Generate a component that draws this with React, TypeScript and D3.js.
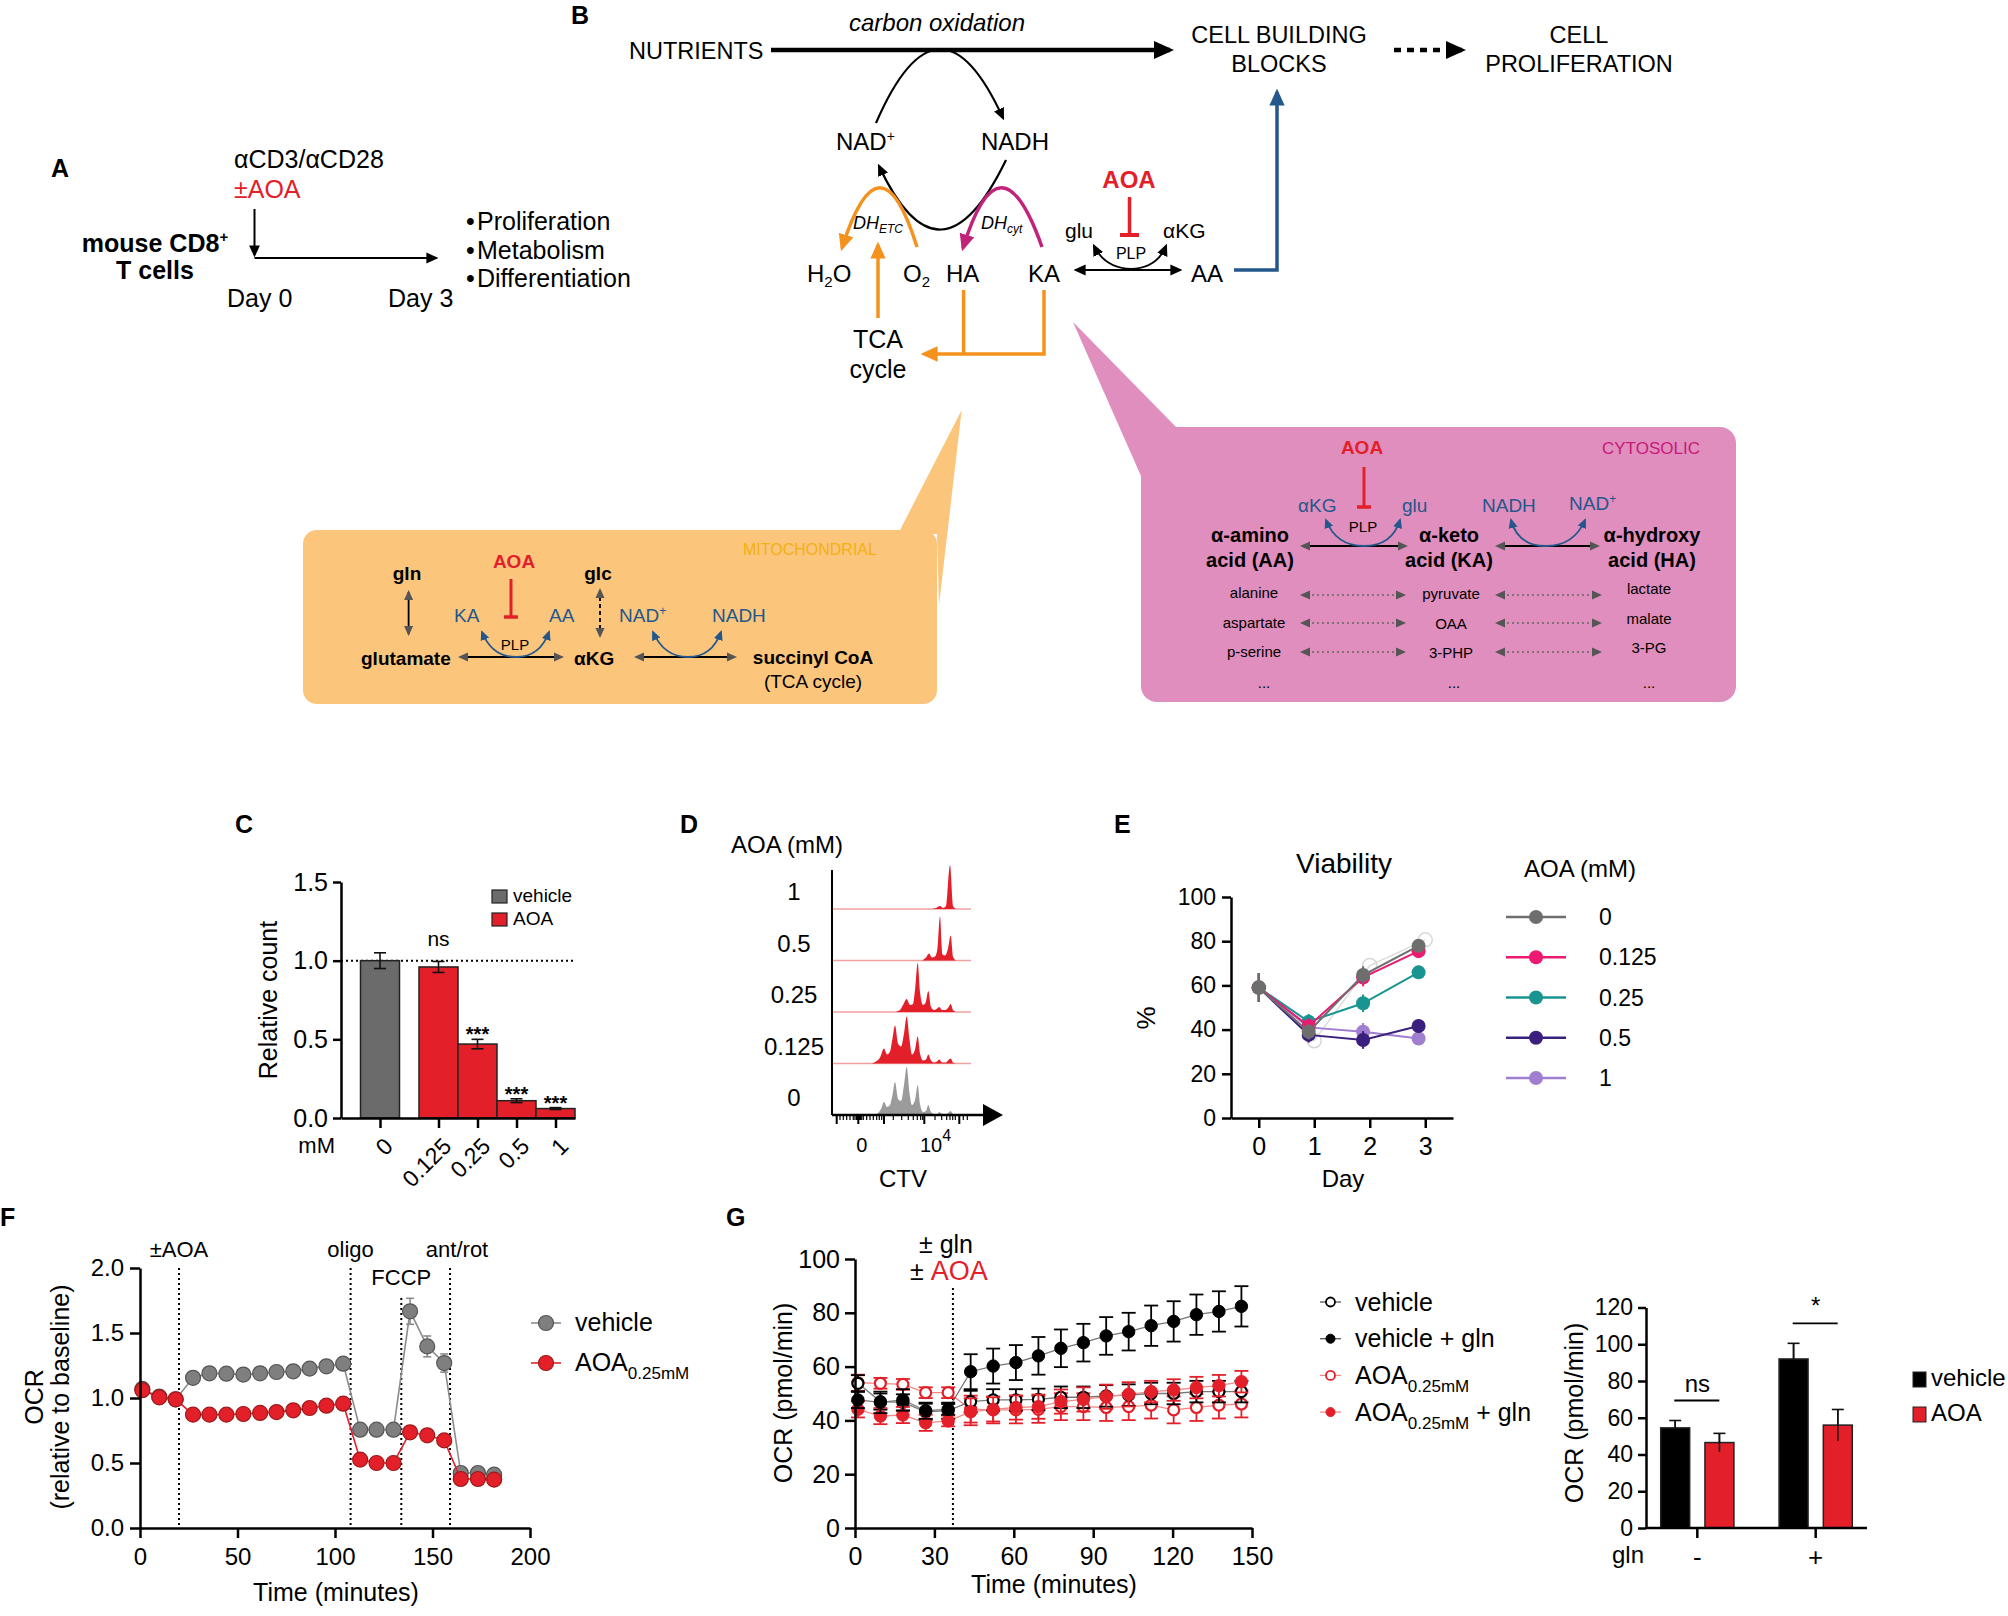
import * as d3 from 'd3'
import { useEffect, useRef } from 'react'

const FONT = '"Liberation Sans", Arial, Helvetica, sans-serif'
const RED = '#e3202a'
const DARKRED = '#9e1a1a'
const BLUE = '#24578c'
const ORANGE = '#f5921e'
const MAGENTA = '#c2237a'

// ---------- C: relative count ----------
const cDoses = ['0', '0.125', '0.25', '0.5', '1']
const cSlots = [0, 1.5, 2.5, 3.5, 4.5]
const cCount = [1.0, 0.96, 0.47, 0.11, 0.06]
const cCountErr = [0.05, 0.035, 0.03, 0.012, 0.006]
const cSig = ['', 'ns', '***', '***', '***']
const cYTicks = [0, 0.5, 1, 1.5]

// ---------- D: CTV histograms (channel, height) ----------
const dRows = ['1', '0.5', '0.25', '0.125', '0']
const dHist1: [number, number][] = [[100, 0], [104, 1], [108, 3], [111, 1], [114, 3], [118, 44], [121, 3], [124, 0]]
const dHist05: [number, number][] = [[90, 0], [94, 3], [97, 7], [100, 3], [103, 4], [105.5, 12], [108, 44], [110.5, 6], [113, 5], [116, 12], [118.7, 25], [121, 4], [124, 0]]
const dHist025: [number, number][] = [[63, 0], [68, 2], [71, 7], [74.7, 13], [78, 7], [81, 8], [83, 22], [85.7, 49], [88, 20], [91, 7], [93.5, 9], [96.3, 21], [99, 5], [102, 2], [104.5, 3], [107.3, 5], [110, 2], [113, 2], [116, 4], [118.7, 8], [121, 2], [124, 0]]
const dHist0125: [number, number][] = [[39, 0], [44, 2], [48, 6], [52, 15], [55, 9], [58, 12], [60.5, 25], [63, 38], [66, 20], [69, 17], [72, 30], [74.7, 47], [77.5, 24], [80, 9], [83, 14], [85.7, 27], [88, 10], [91, 3], [94, 4], [96.3, 9], [99, 3], [102, 1], [105, 2], [107.3, 4], [110, 1], [114, 1], [116, 3], [118.7, 5], [121, 1], [124, 0]]
const dHist0: [number, number][] = [[42, 0], [46, 2], [49, 6], [52, 13], [55, 8], [58, 10], [60.5, 20], [63, 33], [66, 16], [69, 14], [72, 30], [74.7, 48], [77.5, 22], [80, 10], [83, 15], [85.7, 30], [88, 11], [91, 3], [94, 4], [96.3, 10], [99, 3], [102, 1], [105, 1], [107.3, 3], [110, 1], [114, 1], [116, 2], [118.7, 4], [121, 1], [124, 0]]
const dHists = [dHist1, dHist05, dHist025, dHist0125, dHist0]
const dMajorTicks = [4.7, 26.3, 52, 92.3, 127.3]
const dMinorTicks = [8, 11.3, 14.7, 18, 21.3, 23, 24.7, 28, 29.7, 31.3, 34.7, 38, 41.3, 44.7, 47.3, 49.7, 61.3, 69.7, 76.3, 81.3, 85.3, 88.7, 90.7, 103, 109.7, 114.7, 118, 120.7, 123.3, 131.3, 135.3]

// ---------- E: viability ----------
const eDays = [0, 0.9, 1.88, 2.88]
const eDayTicks = [0, 1, 2, 3]
const eDoses = ['0', '0.125', '0.25', '0.5', '1']
const eColors = ['#6e6e6e', '#ec1a72', '#199490', '#3b1f7e', '#a07ed0']
const eDose0 = [59, 39, 64.7, 77.9]
const eDose0125 = [59, 41.6, 63.6, 75.5]
const eDose025 = [59, 43.6, 51.9, 65.9]
const eDose05 = [59, 37.6, 35.3, 41.6]
const eDose1 = [59, 41, 39, 36]
const eErr = [6.5, 3.5, 4, 3]
const eSingle = [59, 35, 69, 80.6]
const eYTicks = [0, 20, 40, 60, 80, 100]

// ---------- F: Seahorse, relative OCR ----------
const fTime = [1.2, 9.9, 18.3, 27.2, 35.6, 44.3, 53, 61.6, 70, 78.6, 87, 95.6, 104.2, 112.9, 121.3, 130, 138.5, 147.3, 156, 164.5, 173.3, 181.6]
const fVehicle = [1.07, 1.01, 0.99, 1.155, 1.19, 1.187, 1.18, 1.19, 1.2, 1.205, 1.226, 1.244, 1.264, 0.756, 0.756, 0.756, 1.667, 1.397, 1.269, 0.423, 0.423, 0.41]
const fVehicleErr = [0.02, 0.02, 0.02, 0.02, 0.02, 0.02, 0.02, 0.02, 0.02, 0.02, 0.02, 0.03, 0.03, 0.02, 0.02, 0.02, 0.1, 0.08, 0.07, 0.02, 0.02, 0.02]
const fAoa = [1.06, 1.005, 0.99, 0.872, 0.872, 0.872, 0.877, 0.885, 0.892, 0.905, 0.923, 0.941, 0.956, 0.526, 0.5, 0.5, 0.736, 0.713, 0.674, 0.377, 0.377, 0.372]
const fEvents = [20, 108, 134, 159]
const fEventLabels = ['±AOA', 'oligo', 'FCCP', 'ant/rot']
const fYTicks = [0, 0.5, 1, 1.5, 2]
const fXTicks = [0, 50, 100, 150, 200]

// ---------- G: OCR with glutamine ----------
const gTime = [1.1, 9.6, 18.1, 26.7, 35.2, 43.7, 52.2, 60.8, 69.3, 77.8, 86.3, 94.9, 103.4, 111.9, 120.4, 129, 137.5, 146]
const gVehicle = [53.8, 47, 46.7, 43.2, 43.6, 47, 47.6, 47.6, 47.8, 48.6, 48.6, 49.1, 49.4, 50, 50, 50.7, 50.7, 50.7]
const gVehicleErr = [3, 3, 3, 3, 3, 4, 4, 4, 4, 4, 4, 4, 4, 4, 4, 4, 4, 4]
const gVehicleGln = [47.6, 46.7, 47.6, 43.6, 44.1, 58.1, 60.2, 61.5, 64, 66.8, 68.9, 71.4, 73, 75.2, 76.8, 79.3, 80.5, 82.4]
const gVehicleGlnErr = [3, 4, 4, 3, 2, 6.5, 6.5, 6.5, 7, 7, 7, 7, 7, 7.5, 7.5, 7.5, 7.5, 7.5]
const gAoa = [54, 53.8, 53.4, 50.3, 50.3, 44.2, 43.9, 43.9, 44.1, 45.1, 45.1, 44.8, 45.1, 45.7, 43.9, 44.8, 45.7, 46.1]
const gAoaErr = [3, 2, 2, 2, 2, 5, 5, 5, 5, 5, 5, 5, 5, 5, 5, 5, 5, 5]
const gAoaGln = [44.1, 41.6, 42, 39.1, 39.8, 43.2, 44.1, 44.8, 45.1, 47, 47.8, 48.8, 49.7, 50.7, 51.3, 52.2, 52.9, 54.4]
const gAoaGlnErr = [3, 3, 3, 3, 2, 5, 4.5, 4.5, 4.5, 4.5, 4.5, 4.5, 4.5, 4, 4, 4, 4, 4]
const gInjection = 37
const gYTicks = [0, 20, 40, 60, 80, 100]
const gXTicks = [0, 30, 60, 90, 120, 150]

// ---------- G (bars) ----------
const gBarGroups = ['-', '+']
const gBarTreat = ['vehicle', 'AOA']
const gBarVehicle = [54.5, 92]
const gBarVehicleErr = [4, 8.5]
const gBarAoa = [46.5, 56]
const gBarAoaErr = [5, 8.5]
const gBarSig = ['ns', '*']
const gBarYTicks = [0, 20, 40, 60, 80, 100, 120]

type G = d3.Selection<SVGGElement, unknown, null, undefined>

function styleAxis(g: G, fs = 24) {
  g.attr('font-family', FONT).attr('font-size', fs)
  g.selectAll('.domain').attr('stroke', '#000').attr('stroke-width', 2.5)
  g.selectAll('.tick line').attr('stroke', '#000').attr('stroke-width', 2.5)
  g.selectAll('.tick text').attr('fill', '#000')
}

function label(g: G, x: number, y: number, s: string, size = 24, anchor = 'start', fill = '#000', weight = 'normal') {
  return g
    .append('text')
    .attr('x', x)
    .attr('y', y)
    .attr('font-size', size)
    .attr('text-anchor', anchor)
    .attr('fill', fill)
    .attr('font-weight', weight)
    .text(s)
}

function vlabel(g: G, x: number, y: number, s: string, size = 24) {
  return g
    .append('text')
    .attr('transform', `translate(${x},${y}) rotate(-90)`)
    .attr('text-anchor', 'middle')
    .attr('font-size', size)
    .text(s)
}

function errBar(g: G, x: number, y1: number, y2: number, cap: number, color: string, w = 1.8) {
  g.append('line').attr('x1', x).attr('x2', x).attr('y1', y1).attr('y2', y2).attr('stroke', color).attr('stroke-width', w)
  if (cap > 0) {
    g.append('line').attr('x1', x - cap).attr('x2', x + cap).attr('y1', y1).attr('y2', y1).attr('stroke', color).attr('stroke-width', w)
    g.append('line').attr('x1', x - cap).attr('x2', x + cap).attr('y1', y2).attr('y2', y2).attr('stroke', color).attr('stroke-width', w)
  }
}

function drawC(g: G) {
  const x = d3.scaleLinear().domain([-1, 5]).range([341, 575])
  const y = d3.scaleLinear().domain([0, 1.5]).range([1118, 882])
  const half = (x(1) - x(0)) / 2

  g.append('line')
    .attr('x1', x(-1)).attr('x2', x(5)).attr('y1', y(1)).attr('y2', y(1))
    .attr('stroke', '#000').attr('stroke-width', 2).attr('stroke-dasharray', '2 3')

  cSlots.forEach((s, i) => {
    const v = cCount[i]
    g.append('rect')
      .attr('x', x(s) - half).attr('width', half * 2)
      .attr('y', y(v)).attr('height', y(0) - y(v))
      .attr('fill', i === 0 ? '#6b6b6b' : RED)
      .attr('stroke', '#222').attr('stroke-width', 1.5)
    errBar(g, x(s), y(v + cCountErr[i]), y(v - cCountErr[i]), 6, '#111', 1.6)
    if (cSig[i] === 'ns') label(g, x(s), y(1) - 15, 'ns', 21, 'middle')
    else if (cSig[i]) label(g, x(s), y(v + cCountErr[i]) + 2, cSig[i], 20, 'middle', '#000', 'bold')
  })

  const ya = g.append('g').attr('transform', `translate(${x(-1)},0)`)
    .call(d3.axisLeft(y).tickValues(cYTicks).tickFormat(d3.format('.1f')).tickSize(8).tickPadding(5).tickSizeOuter(0))
  styleAxis(ya, 25)
  const xa = g.append('g').attr('transform', `translate(0,${y(0)})`)
    .call(d3.axisBottom(x).tickValues(cSlots).tickFormat((_d, i) => cDoses[i]).tickSize(10).tickSizeOuter(0))
  styleAxis(xa, 23)
  xa.selectAll('.tick text')
    .attr('text-anchor', 'end').attr('x', 0).attr('y', 0).attr('dy', '0.35em')
    .attr('transform', 'translate(8,24) rotate(-45)')

  label(g, 335, 1153, 'mM', 22, 'end')
  vlabel(g, 277, 1000, 'Relative count', 25)

  const legend = [['vehicle', '#6b6b6b'], ['AOA', RED]]
  legend.forEach(([name, c], i) => {
    g.append('rect').attr('x', 492).attr('y', 890 + i * 23).attr('width', 15).attr('height', 13).attr('fill', c).attr('stroke', '#222').attr('stroke-width', 1.2)
    label(g, 513, 902 + i * 23, name, 19)
  })
}

function drawD(g: G) {
  const x = d3.scaleLinear().domain([0, 150]).range([832, 982])
  const row = d3.scalePoint<string>().domain(dRows).range([909, 1115])
  const h = d3.scaleLinear().domain([0, 50]).range([0, 50])

  label(g, 787, 853, 'AOA (mM)', 24, 'middle')

  dRows.forEach((r, i) => {
    const base = row(r)!
    if (r !== '0') {
      g.append('line').attr('x1', x(0)).attr('x2', x(139)).attr('y1', base).attr('y2', base).attr('stroke', '#f2a0a0').attr('stroke-width', 1.5)
    }
    const area = d3.area<[number, number]>()
      .x((d) => x(d[0]))
      .y0(base)
      .y1((d) => base - h(d[1]))
      .curve(d3.curveMonotoneX)
    g.append('path').attr('d', area(dHists[i]) ?? '').attr('fill', r === '0' ? '#9b9b9b' : RED)
    label(g, 794, base - 9, r, 24, 'middle')
  })

  const axisY = row('0')!
  g.append('line').attr('x1', x(0)).attr('x2', x(0)).attr('y1', 870).attr('y2', axisY).attr('stroke', '#000').attr('stroke-width', 2)
  g.append('line').attr('x1', x(0)).attr('x2', x(151)).attr('y1', axisY).attr('y2', axisY).attr('stroke', '#000').attr('stroke-width', 2.5)
  g.append('path').attr('d', `M${x(151)},${axisY - 11} L${x(171)},${axisY} L${x(151)},${axisY + 11} Z`).attr('fill', '#000')
  dMajorTicks.forEach((t) => {
    g.append('line').attr('x1', x(t)).attr('x2', x(t)).attr('y1', axisY).attr('y2', axisY + 9).attr('stroke', '#000').attr('stroke-width', 2)
  })
  dMinorTicks.forEach((t) => {
    g.append('line').attr('x1', x(t)).attr('x2', x(t)).attr('y1', axisY).attr('y2', axisY + 5).attr('stroke', '#000').attr('stroke-width', 1.2)
  })
  g.append('rect').attr('x', x(24)).attr('y', axisY).attr('width', 5).attr('height', 5).attr('fill', '#000')
  label(g, x(29.7), 1152, '0', 20, 'middle')
  const t = label(g, x(88), 1152, '10', 20, 'start')
  t.append('tspan').attr('dy', -11).attr('font-size', 16).text('4')
  label(g, x(71), 1187, 'CTV', 24, 'middle')
}

function drawE(g: G) {
  const x = d3.scaleLinear().domain([-0.5, 3.5]).range([1231, 1453])
  const y = d3.scaleLinear().domain([0, 100]).range([1118, 897])

  label(g, 1344, 873, 'Viability', 28, 'middle')

  const line = d3.line<number>().x((_d, i) => x(eDays[i])).y((d) => y(d))
  // individual replicate (faint)
  g.append('path').attr('d', d3.line<number>().x((_d, i) => x(eDayTicks[i])).y((d) => y(d))(eSingle) ?? '')
    .attr('fill', 'none').attr('stroke', '#dcdcdc').attr('stroke-width', 1.5)
  eSingle.forEach((v, i) => {
    g.append('circle').attr('cx', x(eDayTicks[i])).attr('cy', y(v)).attr('r', 7).attr('fill', 'none').attr('stroke', '#d8d8d8').attr('stroke-width', 1.5)
  })

  const series = [eDose0, eDose0125, eDose025, eDose05, eDose1]
  const order = [4, 3, 2, 1, 0]
  order.forEach((k) => {
    const vals = series[k]
    const c = eColors[k]
    g.append('path').attr('d', line(vals) ?? '').attr('fill', 'none').attr('stroke', c).attr('stroke-width', 2)
    vals.forEach((v, i) => {
      errBar(g, x(eDays[i]), y(v + eErr[i]), y(v - eErr[i]), 0, c, 2)
      g.append('circle').attr('cx', x(eDays[i])).attr('cy', y(v)).attr('r', 7).attr('fill', c)
    })
  })

  const ya = g.append('g').attr('transform', `translate(${x(-0.5)},0)`)
    .call(d3.axisLeft(y).tickValues(eYTicks).tickSize(9).tickPadding(6).tickSizeOuter(0))
  styleAxis(ya, 23)
  const xa = g.append('g').attr('transform', `translate(0,${y(0)})`)
    .call(d3.axisBottom(x).tickValues(eDayTicks).tickFormat(d3.format('d')).tickSize(10).tickPadding(9).tickSizeOuter(0))
  styleAxis(xa, 25)

  vlabel(g, 1155, 1018, '%', 26)
  label(g, 1343, 1187, 'Day', 24, 'middle')

  label(g, 1580, 877, 'AOA (mM)', 24, 'middle')
  const ly = d3.scalePoint<string>().domain(eDoses).range([917, 1078])
  eDoses.forEach((d, k) => {
    const yy = ly(d)!
    g.append('line').attr('x1', 1506).attr('x2', 1566).attr('y1', yy).attr('y2', yy).attr('stroke', eColors[k]).attr('stroke-width', 2.5)
    g.append('circle').attr('cx', 1536).attr('cy', yy).attr('r', 7).attr('fill', eColors[k])
    label(g, 1599, yy + 8, d, 23)
  })
}

function drawF(g: G) {
  const x = d3.scaleLinear().domain([0, 200]).range([140, 530])
  const y = d3.scaleLinear().domain([0, 2]).range([1528, 1268])

  fEvents.forEach((t, i) => {
    g.append('line').attr('x1', x(t)).attr('x2', x(t)).attr('y1', i === 2 ? 1298 : 1268).attr('y2', y(0))
      .attr('stroke', '#000').attr('stroke-width', 2).attr('stroke-dasharray', '2 3')
    const dx = i === 3 ? 7 : 0
    label(g, x(t) + dx, i === 2 ? 1285 : 1257, fEventLabels[i], 22, 'middle')
  })

  const line = d3.line<number>().x((_d, i) => x(fTime[i])).y((d) => y(d))
  g.append('path').attr('d', line(fVehicle) ?? '').attr('fill', 'none').attr('stroke', '#8c8c8c').attr('stroke-width', 1.6)
  fVehicle.forEach((v, i) => {
    errBar(g, x(fTime[i]), y(v + fVehicleErr[i]), y(v - fVehicleErr[i]), 4, '#8c8c8c', 1.6)
  })
  fVehicle.forEach((v, i) => {
    g.append('circle').attr('cx', x(fTime[i])).attr('cy', y(v)).attr('r', 7.5).attr('fill', '#7f7f7f').attr('stroke', '#555').attr('stroke-width', 1.2)
  })
  g.append('path').attr('d', line(fAoa) ?? '').attr('fill', 'none').attr('stroke', RED).attr('stroke-width', 1.6)
  fAoa.forEach((v, i) => {
    g.append('circle').attr('cx', x(fTime[i])).attr('cy', y(v)).attr('r', 7.5).attr('fill', RED).attr('stroke', DARKRED).attr('stroke-width', 1.2)
  })

  const ya = g.append('g').attr('transform', `translate(${x(0)},0)`)
    .call(d3.axisLeft(y).tickValues(fYTicks).tickFormat(d3.format('.1f')).tickSize(10).tickPadding(6).tickSizeOuter(0))
  styleAxis(ya, 24)
  const xa = g.append('g').attr('transform', `translate(0,${y(0)})`)
    .call(d3.axisBottom(x).tickValues(fXTicks).tickSize(10).tickPadding(10).tickSizeOuter(0))
  styleAxis(xa, 24)

  vlabel(g, 43, 1397, 'OCR', 25)
  vlabel(g, 69, 1397, '(relative to baseline)', 25)
  label(g, 336, 1601, 'Time (minutes)', 25, 'middle')

  const leg = [['#7f7f7f', '#555', '#8c8c8c'], [RED, DARKRED, RED]]
  leg.forEach(([fill, stroke, lc], i) => {
    const yy = 1323 + i * 40
    g.append('line').attr('x1', 531).attr('x2', 561).attr('y1', yy).attr('y2', yy).attr('stroke', lc).attr('stroke-width', 1.6)
    g.append('circle').attr('cx', 546).attr('cy', yy).attr('r', 7.5).attr('fill', fill).attr('stroke', stroke).attr('stroke-width', 1.2)
  })
  label(g, 575, 1331, 'vehicle', 25)
  const t = label(g, 575, 1371, 'AOA', 25)
  t.append('tspan').attr('dy', 8).attr('font-size', 17).text('0.25mM')
}

function drawG(g: G) {
  const x = d3.scaleLinear().domain([0, 150]).range([855, 1252])
  const y = d3.scaleLinear().domain([0, 100]).range([1528, 1259])

  g.append('line').attr('x1', x(gInjection)).attr('x2', x(gInjection)).attr('y1', 1288).attr('y2', y(0))
    .attr('stroke', '#000').attr('stroke-width', 2).attr('stroke-dasharray', '2 3')
  label(g, 946, 1253, '± gln', 25, 'middle')
  const t = label(g, 910, 1280, '± ', 25)
  t.append('tspan').attr('fill', RED).attr('font-size', 27).text('AOA')

  const line = d3.line<number>().x((_d, i) => x(gTime[i])).y((d) => y(d))
  const series = [
    { vals: gAoa, err: gAoaErr, color: RED, lc: '#f08a8a', open: true },
    { vals: gVehicle, err: gVehicleErr, color: '#000', lc: '#777', open: true },
    { vals: gAoaGln, err: gAoaGlnErr, color: RED, lc: '#f08a8a', open: false },
    { vals: gVehicleGln, err: gVehicleGlnErr, color: '#000', lc: '#777', open: false },
  ]
  series.forEach((s) => {
    g.append('path').attr('d', line(s.vals) ?? '').attr('fill', 'none').attr('stroke', s.lc).attr('stroke-width', 1.3)
  })
  series.forEach((s) => {
    s.vals.forEach((v, i) => {
      errBar(g, x(gTime[i]), y(v + s.err[i]), y(v - s.err[i]), 7, s.color, 1.8)
    })
    s.vals.forEach((v, i) => {
      g.append('circle').attr('cx', x(gTime[i])).attr('cy', y(v)).attr('r', s.open ? 5.5 : 6.2)
        .attr('fill', s.open ? '#fff' : s.color).attr('stroke', s.color).attr('stroke-width', s.open ? 2.2 : 1)
    })
  })

  const ya = g.append('g').attr('transform', `translate(${x(0)},0)`)
    .call(d3.axisLeft(y).tickValues(gYTicks).tickSize(10).tickPadding(5).tickSizeOuter(0))
  styleAxis(ya, 25)
  const xa = g.append('g').attr('transform', `translate(0,${y(0)})`)
    .call(d3.axisBottom(x).tickValues(gXTicks).tickSize(10).tickPadding(9).tickSizeOuter(0))
  styleAxis(xa, 25)

  vlabel(g, 792, 1393, 'OCR (pmol/min)', 25)
  label(g, 1054, 1593, 'Time (minutes)', 25, 'middle')

  const legend = [
    { color: '#000', open: true, name: 'vehicle', sub: '', tail: '' },
    { color: '#000', open: false, name: 'vehicle + gln', sub: '', tail: '' },
    { color: RED, open: true, name: 'AOA', sub: '0.25mM', tail: '' },
    { color: RED, open: false, name: 'AOA', sub: '0.25mM', tail: ' + gln' },
  ]
  legend.forEach((l, i) => {
    const yy = 1302 + i * 36.7
    g.append('line').attr('x1', 1320).attr('x2', 1341).attr('y1', yy).attr('y2', yy).attr('stroke', l.color === RED ? '#f08a8a' : '#555').attr('stroke-width', 1.3)
    g.append('circle').attr('cx', 1330.5).attr('cy', yy).attr('r', 4.5)
      .attr('fill', l.open ? '#fff' : l.color).attr('stroke', l.color).attr('stroke-width', l.open ? 1.8 : 1)
    const tt = label(g, 1355, yy + 8.5, l.name, 25)
    if (l.sub) tt.append('tspan').attr('dy', 8).attr('font-size', 17).text(l.sub)
    if (l.tail) tt.append('tspan').attr('dy', -8).text(l.tail)
  })
}

function drawGBars(g: G) {
  const x0 = d3.scaleBand<string>().domain(gBarGroups).range([1646, 1867]).paddingInner(0.333).paddingOuter(0.1)
  const x1 = d3.scaleBand<string>().domain(gBarTreat).range([0, x0.bandwidth()]).paddingInner(0.345).paddingOuter(0.065)
  const y = d3.scaleLinear().domain([0, 120]).range([1528, 1307.5])

  gBarGroups.forEach((grp, i) => {
    const vals = [gBarVehicle[i], gBarAoa[i]]
    const errs = [gBarVehicleErr[i], gBarAoaErr[i]]
    gBarTreat.forEach((tr, j) => {
      const bx = x0(grp)! + x1(tr)!
      const fill = j === 0 ? '#000' : RED
      const cx = bx + x1.bandwidth() / 2
      errBar(g, cx, y(vals[j] + errs[j]), y(vals[j] - errs[j]), 6, '#111', 1.6)
      g.append('rect').attr('x', bx).attr('width', x1.bandwidth()).attr('y', y(vals[j])).attr('height', y(0) - y(vals[j]))
        .attr('fill', fill).attr('stroke', '#222').attr('stroke-width', 1.5)
      g.append('line').attr('x1', cx).attr('x2', cx).attr('y1', y(vals[j] + errs[j])).attr('y2', y(vals[j]))
        .attr('stroke', '#111').attr('stroke-width', 1.6)
      if (j === 1) {
        g.append('line').attr('x1', cx).attr('x2', cx).attr('y1', y(vals[j])).attr('y2', y(vals[j] - errs[j]))
          .attr('stroke', '#111').attr('stroke-width', 1.6)
      }
    })
    const maxTop = Math.max(...vals.map((v, j) => v + errs[j]))
    const gc = x0(grp)! + x0.bandwidth() / 2
    const ly = y(maxTop) - 20
    g.append('line').attr('x1', gc - 23).attr('x2', gc + 22).attr('y1', ly).attr('y2', ly).attr('stroke', '#000').attr('stroke-width', 1.8)
    label(g, gc, ly - 9, gBarSig[i], 24, 'middle')
  })

  const ya = g.append('g').attr('transform', `translate(1646,0)`)
    .call(d3.axisLeft(y).tickValues(gBarYTicks).tickSize(8).tickPadding(5).tickSizeOuter(0))
  styleAxis(ya, 23)
  const xa = g.append('g').attr('transform', `translate(0,${y(0)})`)
    .call(d3.axisBottom(x0).tickSize(10).tickPadding(10).tickSizeOuter(0))
  styleAxis(xa, 26)
  xa.select('.domain').attr('d', `M1646,0H1867`)

  label(g, 1644, 1563, 'gln', 24, 'end')
  vlabel(g, 1583, 1413, 'OCR (pmol/min)', 25)

  const legend = [['vehicle', '#000'], ['AOA', RED]]
  legend.forEach(([name, c], i) => {
    g.append('rect').attr('x', 1913).attr('y', 1372 + i * 35).attr('width', 13).attr('height', 15).attr('fill', c).attr('stroke', '#222').attr('stroke-width', 1)
    label(g, 1931, 1386 + i * 35, name, 24)
  })
}

function Marker({ id, color, size }: { id: string; color: string; size: number }) {
  return (
    <marker id={id} viewBox="0 0 10 10" refX={8} refY={5} markerWidth={size} markerHeight={size} markerUnits="userSpaceOnUse" orient="auto-start-reverse">
      <path d="M0,0.5 L10,5 L0,9.5 z" fill={color} />
    </marker>
  )
}

function Diagram() {
  const bold = { fontWeight: 'bold' as const }
  return (
    <g>
      <defs>
        <Marker id="ah-k" color="#000" size={12} />
        <Marker id="ah-kl" color="#000" size={20} />
        <Marker id="ah-o" color={ORANGE} size={17} />
        <Marker id="ah-m" color={MAGENTA} size={17} />
        <Marker id="ah-b" color={BLUE} size={17} />
        <Marker id="ah-bs" color={BLUE} size={10} />
        <Marker id="ah-g" color="#555" size={10} />
      </defs>

      {/* panel letters */}
      <text x={51} y={177} fontSize={25} {...bold}>A</text>
      <text x={571} y={24} fontSize={25} {...bold}>B</text>
      <text x={235} y={833} fontSize={25} {...bold}>C</text>
      <text x={680} y={833} fontSize={25} {...bold}>D</text>
      <text x={1114} y={833} fontSize={25} {...bold}>E</text>
      <text x={0} y={1226} fontSize={25} {...bold}>F</text>
      <text x={726} y={1226} fontSize={25} {...bold}>G</text>

      {/* A */}
      <text x={234} y={168} fontSize={25}>αCD3/αCD28</text>
      <text x={234} y={198} fontSize={25} fill={RED}>±AOA</text>
      <line x1={254.5} y1={209} x2={254.5} y2={255} stroke="#000" strokeWidth={2} markerEnd="url(#ah-k)" />
      <line x1={254.5} y1={258} x2={436} y2={258} stroke="#000" strokeWidth={2} markerEnd="url(#ah-k)" />
      <text x={155} y={252} fontSize={25} textAnchor="middle" {...bold}>
        mouse CD8<tspan dy={-10} fontSize={15}>+</tspan>
      </text>
      <text x={155} y={279} fontSize={25} textAnchor="middle" {...bold}>T cells</text>
      <text x={227} y={307} fontSize={25}>Day 0</text>
      <text x={388} y={307} fontSize={25}>Day 3</text>
      {['Proliferation', 'Metabolism', 'Differentiation'].map((s, i) => (
        <g key={s}>
          <text x={466} y={230 + i * 28.5} fontSize={25}>•</text>
          <text x={477} y={230 + i * 28.5} fontSize={25}>{s}</text>
        </g>
      ))}

      {/* B top */}
      <text x={937} y={31} fontSize={24} fontStyle="italic" textAnchor="middle">carbon oxidation</text>
      <text x={629} y={59} fontSize={23.5}>NUTRIENTS</text>
      <line x1={771} y1={50} x2={1170} y2={50} stroke="#000" strokeWidth={4.5} markerEnd="url(#ah-kl)" />
      <text x={1279} y={43} fontSize={23.5} textAnchor="middle">CELL BUILDING</text>
      <text x={1279} y={72} fontSize={23.5} textAnchor="middle">BLOCKS</text>
      <line x1={1394} y1={50} x2={1462} y2={50} stroke="#000" strokeWidth={4.5} strokeDasharray="7 6" markerEnd="url(#ah-kl)" />
      <text x={1579} y={43} fontSize={23.5} textAnchor="middle">CELL</text>
      <text x={1579} y={72} fontSize={23.5} textAnchor="middle">PROLIFERATION</text>

      <path d="M876,123 Q939,-22 1003,118" fill="none" stroke="#000" strokeWidth={2.2} markerEnd="url(#ah-k)" />
      <path d="M1006,160 Q940,296 879,166" fill="none" stroke="#000" strokeWidth={2.2} markerEnd="url(#ah-k)" />
      <text x={836} y={150} fontSize={24}>NAD<tspan dy={-9} fontSize={14}>+</tspan></text>
      <text x={981} y={150} fontSize={24}>NADH</text>

      <path d="M917,247 Q880,128 842,248" fill="none" stroke={ORANGE} strokeWidth={3.5} markerEnd="url(#ah-o)" />
      <path d="M1042,247 Q1000,128 963,248" fill="none" stroke={MAGENTA} strokeWidth={3.5} markerEnd="url(#ah-m)" />
      <text x={853} y={229} fontSize={18} fontStyle="italic">DH<tspan dy={4} fontSize={12}>ETC</tspan></text>
      <text x={981} y={229} fontSize={18} fontStyle="italic">DH<tspan dy={4} fontSize={12}>cyt</tspan></text>

      <text x={807} y={282} fontSize={24}>H<tspan dy={5} fontSize={15}>2</tspan><tspan dy={-5}>O</tspan></text>
      <text x={903} y={282} fontSize={24}>O<tspan dy={5} fontSize={15}>2</tspan></text>
      <text x={946} y={282} fontSize={24}>HA</text>
      <text x={1028} y={282} fontSize={24}>KA</text>
      <text x={1191} y={282} fontSize={24}>AA</text>

      <line x1={878} y1={318} x2={878} y2={245} stroke={ORANGE} strokeWidth={3.5} markerEnd="url(#ah-o)" />
      <text x={878} y={348} fontSize={25} textAnchor="middle">TCA</text>
      <text x={878} y={378} fontSize={25} textAnchor="middle">cycle</text>
      <path d="M963.6,290 V354" fill="none" stroke={ORANGE} strokeWidth={3.5} />
      <path d="M1044,290 V354 H924" fill="none" stroke={ORANGE} strokeWidth={3.5} markerEnd="url(#ah-o)" />

      <text x={1129} y={188} fontSize={24} fill={RED} textAnchor="middle" {...bold}>AOA</text>
      <line x1={1129.5} y1={197} x2={1129.5} y2={235} stroke={RED} strokeWidth={3.5} />
      <line x1={1120} y1={235} x2={1139} y2={235} stroke={RED} strokeWidth={4} />
      <text x={1065} y={238} fontSize={21}>glu</text>
      <text x={1163} y={238} fontSize={21}>αKG</text>
      <text x={1131} y={259} fontSize={16} textAnchor="middle">PLP</text>
      <path d="M1131,269 Q1105,268 1094,246" fill="none" stroke="#000" strokeWidth={1.8} markerEnd="url(#ah-k)" />
      <path d="M1131,269 Q1157,268 1166,246" fill="none" stroke="#000" strokeWidth={1.8} markerEnd="url(#ah-k)" />
      <line x1={1076} y1={270} x2={1180} y2={270} stroke="#000" strokeWidth={2} markerStart="url(#ah-k)" markerEnd="url(#ah-k)" />
      <path d="M1234,270 H1277 V92" fill="none" stroke={BLUE} strokeWidth={3.5} markerEnd="url(#ah-b)" />

      {/* callouts */}
      <polygon points="961.7,410 898,534 937,534 939,605" fill="#fbc57c" />
      <polygon points="1073,322 1177,428 1141,476" fill="#e08ebd" />

      {/* mitochondrial box */}
      <rect x={303} y={530} width={634} height={174} rx={14} fill="#fbc57c" />
      <text x={743} y={555} fontSize={16} fill="#f4b010">MITOCHONDRIAL</text>
      <text x={407} y={580} fontSize={19} textAnchor="middle" {...bold}>gln</text>
      <text x={514} y={568} fontSize={19} fill={RED} textAnchor="middle" {...bold}>AOA</text>
      <line x1={511} y1={579} x2={511} y2={617} stroke={RED} strokeWidth={3} />
      <line x1={504} y1={617} x2={518} y2={617} stroke={RED} strokeWidth={3.5} />
      <text x={598} y={580} fontSize={19} textAnchor="middle" {...bold}>glc</text>
      <line x1={408.6} y1={592} x2={408.6} y2={634} stroke="#000" strokeWidth={1.8} markerStart="url(#ah-g)" markerEnd="url(#ah-g)" />
      <line x1={600} y1={590} x2={600} y2={636} stroke="#000" strokeWidth={1.8} strokeDasharray="4 3" markerStart="url(#ah-g)" markerEnd="url(#ah-g)" />
      <text x={454} y={622} fontSize={19} fill={BLUE}>KA</text>
      <text x={549} y={622} fontSize={19} fill={BLUE}>AA</text>
      <text x={515} y={650} fontSize={15} textAnchor="middle">PLP</text>
      <text x={619} y={622} fontSize={19} fill={BLUE}>NAD<tspan dy={-7} fontSize={12}>+</tspan></text>
      <text x={712} y={622} fontSize={19} fill={BLUE}>NADH</text>
      <text x={361} y={665} fontSize={19} {...bold}>glutamate</text>
      <text x={574} y={665} fontSize={19} {...bold}>αKG</text>
      <line x1={460} y1={657} x2={562} y2={657} stroke="#000" strokeWidth={1.8} markerStart="url(#ah-g)" markerEnd="url(#ah-g)" />
      <line x1={636} y1={657} x2={735} y2={657} stroke="#000" strokeWidth={1.8} markerStart="url(#ah-g)" markerEnd="url(#ah-g)" />
      <text x={813} y={664} fontSize={19} textAnchor="middle" {...bold}>succinyl CoA</text>
      <text x={813} y={688} fontSize={19} textAnchor="middle">(TCA cycle)</text>
      <path d="M516,657 Q492,657 482,632" fill="none" stroke={BLUE} strokeWidth={1.8} markerEnd="url(#ah-bs)" />
      <path d="M516,657 Q540,657 549,632" fill="none" stroke={BLUE} strokeWidth={1.8} markerEnd="url(#ah-bs)" />
      <path d="M688,657 Q664,657 653,632" fill="none" stroke={BLUE} strokeWidth={1.8} markerEnd="url(#ah-bs)" />
      <path d="M688,657 Q712,657 721,632" fill="none" stroke={BLUE} strokeWidth={1.8} markerEnd="url(#ah-bs)" />

      {/* cytosolic box */}
      <rect x={1141} y={427} width={595} height={275} rx={16} fill="#e08ebd" />
      <text x={1602} y={454} fontSize={17} fill="#c8197a">CYTOSOLIC</text>
      <text x={1362} y={454} fontSize={19} fill={RED} textAnchor="middle" {...bold}>AOA</text>
      <line x1={1364} y1={467} x2={1364} y2={507} stroke={RED} strokeWidth={3} />
      <line x1={1357} y1={507} x2={1371} y2={507} stroke={RED} strokeWidth={3.5} />
      <text x={1298} y={512} fontSize={19} fill={BLUE}>αKG</text>
      <text x={1402} y={512} fontSize={19} fill={BLUE}>glu</text>
      <text x={1363} y={532} fontSize={15} textAnchor="middle">PLP</text>
      <text x={1482} y={512} fontSize={19} fill={BLUE}>NADH</text>
      <text x={1569} y={510} fontSize={19} fill={BLUE}>NAD<tspan dy={-7} fontSize={12}>+</tspan></text>
      <text x={1250} y={542} fontSize={20} textAnchor="middle" {...bold}>α-amino</text>
      <text x={1250} y={567} fontSize={20} textAnchor="middle" {...bold}>acid (AA)</text>
      <text x={1449} y={542} fontSize={20} textAnchor="middle" {...bold}>α-keto</text>
      <text x={1449} y={567} fontSize={20} textAnchor="middle" {...bold}>acid (KA)</text>
      <text x={1652} y={542} fontSize={20} textAnchor="middle" {...bold}>α-hydroxy</text>
      <text x={1652} y={567} fontSize={20} textAnchor="middle" {...bold}>acid (HA)</text>
      <line x1={1302} y1={546} x2={1406} y2={546} stroke="#000" strokeWidth={1.8} markerStart="url(#ah-g)" markerEnd="url(#ah-g)" />
      <line x1={1497} y1={546} x2={1598} y2={546} stroke="#000" strokeWidth={1.8} markerStart="url(#ah-g)" markerEnd="url(#ah-g)" />
      <path d="M1364,546 Q1336,546 1326,520" fill="none" stroke={BLUE} strokeWidth={1.8} markerEnd="url(#ah-bs)" />
      <path d="M1364,546 Q1392,546 1400,520" fill="none" stroke={BLUE} strokeWidth={1.8} markerEnd="url(#ah-bs)" />
      <path d="M1546,546 Q1518,546 1511,520" fill="none" stroke={BLUE} strokeWidth={1.8} markerEnd="url(#ah-bs)" />
      <path d="M1546,546 Q1574,546 1585,520" fill="none" stroke={BLUE} strokeWidth={1.8} markerEnd="url(#ah-bs)" />
      {[
        ['alanine', 'pyruvate', 'lactate', 598, 595],
        ['aspartate', 'OAA', 'malate', 628, 623],
        ['p-serine', '3-PHP', '3-PG', 657, 652],
      ].map(([a, b, c, ty, ay]) => (
        <g key={a as string}>
          <text x={1254} y={ty as number} fontSize={15} textAnchor="middle">{a}</text>
          <text x={1451} y={(ty as number) + 1} fontSize={15} textAnchor="middle">{b}</text>
          <text x={1649} y={(ty as number) - 4} fontSize={15} textAnchor="middle">{c}</text>
          <line x1={1302} y1={ay as number} x2={1404} y2={ay as number} stroke="#666" strokeWidth={1.6} strokeDasharray="2 3" markerStart="url(#ah-g)" markerEnd="url(#ah-g)" />
          <line x1={1497} y1={ay as number} x2={1600} y2={ay as number} stroke="#666" strokeWidth={1.6} strokeDasharray="2 3" markerStart="url(#ah-g)" markerEnd="url(#ah-g)" />
        </g>
      ))}
      <text x={1264} y={688} fontSize={15} textAnchor="middle">...</text>
      <text x={1454} y={688} fontSize={15} textAnchor="middle">...</text>
      <text x={1649} y={688} fontSize={15} textAnchor="middle">...</text>
    </g>
  )
}

export default function App() {
  const ref = useRef<SVGSVGElement>(null)

  useEffect(() => {
    document.body.style.margin = '0'
    if (!ref.current) return
    const root = d3.select(ref.current).select<SVGGElement>('g.charts')
    root.selectAll('*').remove()
    const add = () => root.append('g') as unknown as G
    drawC(add())
    drawD(add())
    drawE(add())
    drawF(add())
    drawG(add())
    drawGBars(add())
  }, [])

  return (
    <svg ref={ref} width={2008} height={1616} fontFamily={FONT} style={{ display: 'block', background: '#fff' }}>
      <rect width={2008} height={1616} fill="#fff" />
      <Diagram />
      <g className="charts" />
    </svg>
  )
}
